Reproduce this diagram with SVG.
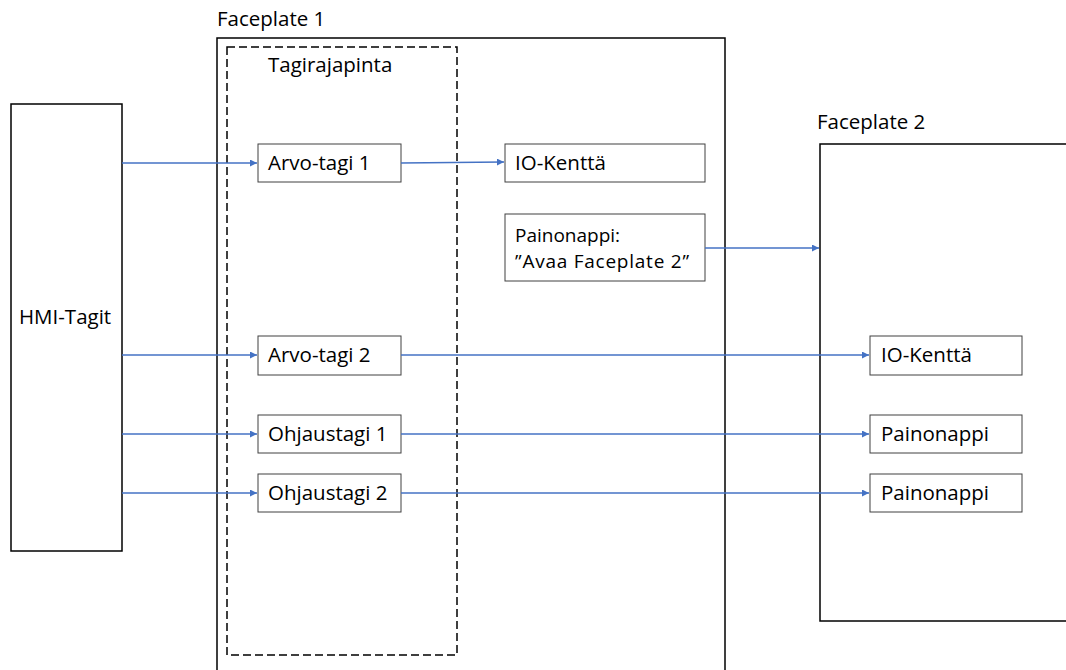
<svg xmlns="http://www.w3.org/2000/svg" width="1066" height="670" viewBox="0 0 1066 670">
  <style>
    .box { fill: #ffffff; stroke: #000000; stroke-width: 1.5; }
    .item { fill: #ffffff; stroke: #404040; stroke-width: 1; }
    .dash { fill: none; stroke: #000000; stroke-width: 1.5; stroke-dasharray: 8 4; }
    .lbl { font-family: "Open Sans", "Liberation Sans", sans-serif; font-size: 20.5px; fill: #000000; }
    .lbl2 { font-size: 19px; }
    .conn { fill: none; stroke: #4472C4; stroke-width: 1.5; marker-end: url(#arr); }
  </style>
  <defs>
    <marker id="arr" viewBox="0 0 10 10" refX="10" refY="5" markerWidth="7" markerHeight="7" markerUnits="userSpaceOnUse" orient="auto">
      <path d="M0,0 L10,5 L0,10 z" fill="#4472C4"/>
    </marker>
  </defs>
  <rect width="1066" height="670" fill="#ffffff"/>

  <g id="hmi-tagit">
    <rect class="box" x="11" y="104" width="111" height="447"/>
    <text class="lbl" x="19" y="324">HMI-Tagit</text>
  </g>

  <g id="faceplate-1">
    <rect class="box" x="217" y="38" width="508" height="650"/>
    <text class="lbl" x="217" y="26">Faceplate 1</text>
  </g>

  <g id="tagirajapinta">
    <rect class="dash" x="227" y="47" width="230" height="608"/>
    <text class="lbl" x="268" y="72">Tagirajapinta</text>
  </g>

  <g id="faceplate-2">
    <rect class="box" x="820" y="144" width="260" height="477"/>
    <text class="lbl" x="817" y="129">Faceplate 2</text>
  </g>

  <g id="arvo-tagi-1">
    <rect class="item" x="258" y="144" width="143" height="38"/>
    <text class="lbl" x="268" y="170">Arvo-tagi 1</text>
  </g>
  <g id="arvo-tagi-2">
    <rect class="item" x="258" y="336" width="143" height="39"/>
    <text class="lbl" x="268" y="362">Arvo-tagi 2</text>
  </g>
  <g id="ohjaustagi-1">
    <rect class="item" x="258" y="415" width="143" height="38"/>
    <text class="lbl" x="268" y="441">Ohjaustagi 1</text>
  </g>
  <g id="ohjaustagi-2">
    <rect class="item" x="258" y="474" width="143" height="38"/>
    <text class="lbl" x="268" y="500">Ohjaustagi 2</text>
  </g>

  <g id="io-kentta-1">
    <rect class="item" x="505" y="144" width="200" height="38"/>
    <text class="lbl" x="515" y="170">IO-Kenttä</text>
  </g>
  <g id="painonappi-avaa">
    <rect class="item" x="505" y="214" width="200" height="67"/>
    <text class="lbl lbl2" x="515" y="242">Painonappi:</text>
    <text class="lbl lbl2" x="515" y="268" textLength="174" lengthAdjust="spacing">”Avaa Faceplate 2”</text>
  </g>

  <g id="io-kentta-2">
    <rect class="item" x="870" y="336" width="152" height="39"/>
    <text class="lbl" x="881" y="362">IO-Kenttä</text>
  </g>
  <g id="painonappi-1">
    <rect class="item" x="870" y="415" width="152" height="38"/>
    <text class="lbl" x="881" y="441">Painonappi</text>
  </g>
  <g id="painonappi-2">
    <rect class="item" x="870" y="474" width="152" height="38"/>
    <text class="lbl" x="881" y="500">Painonappi</text>
  </g>

  <g id="connectors">
    <line class="conn" x1="122" y1="163" x2="257" y2="163"/>
    <line class="conn" x1="122" y1="355" x2="257" y2="355"/>
    <line class="conn" x1="122" y1="434" x2="257" y2="434"/>
    <line class="conn" x1="122" y1="493" x2="257" y2="493"/>
    <line class="conn" x1="401" y1="163" x2="504" y2="162"/>
    <line class="conn" x1="705" y1="248" x2="819" y2="248"/>
    <line class="conn" x1="401" y1="355" x2="869" y2="355"/>
    <line class="conn" x1="401" y1="434" x2="869" y2="434"/>
    <line class="conn" x1="401" y1="493" x2="869" y2="493"/>
  </g>
</svg>
